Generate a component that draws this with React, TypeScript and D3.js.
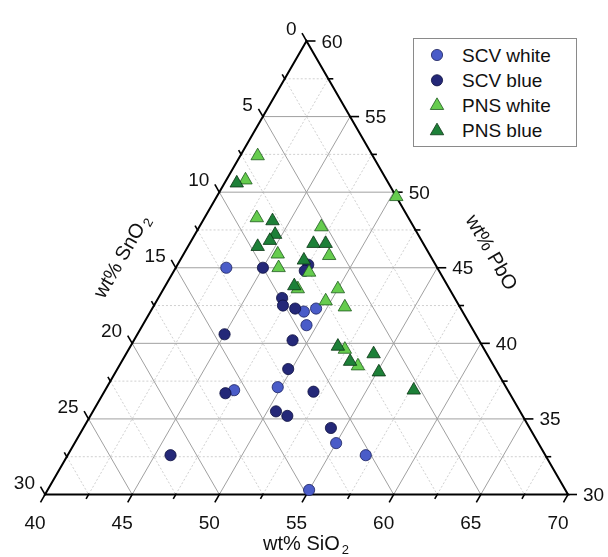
import React, { useRef, useEffect } from "react";
import * as d3 from "d3";

// compositions in wt% (SiO2 + PbO + SnO2 = 100)
const scvWhiteSiO2 = [42.9, 48.8, 49.4, 49.4, 49.8, 47.4, 55.0, 57.1, 55.0];
const scvWhitePbO = [45.0, 42.1, 42.3, 41.2, 37.1, 36.9, 33.4, 32.6, 30.3];
const scvWhiteSnO2 = [12.1, 9.1, 8.3, 9.4, 13.1, 15.7, 11.6, 10.3, 14.7];

const scvBlueSiO2 = [45.0, 47.5, 47.5, 47.1, 47.4, 48.2, 45.0, 49.1, 49.8, 47.0, 52.0, 50.5, 51.3, 54.2, 45.9];
const scvBluePbO = [45.0, 45.2, 44.8, 43.0, 42.5, 42.3, 40.6, 40.2, 38.3, 36.7, 36.8, 35.5, 35.2, 34.4, 32.6];
const scvBlueSnO2 = [10.0, 7.3, 7.7, 9.9, 10.1, 9.5, 14.4, 10.7, 11.9, 16.3, 11.2, 14.0, 13.5, 11.4, 21.5];

const pnsWhiteSiO2 = [41.0, 41.1, 43.0, 47.0, 45.4, 48.4, 45.9, 47.8, 47.7, 50.0, 49.7, 51.0, 52.4, 53.7, 50.3];
const pnsWhitePbO = [52.4, 50.8, 48.3, 47.7, 45.9, 45.8, 45.0, 44.7, 43.6, 43.6, 42.8, 42.4, 39.6, 38.5, 49.7];
const pnsWhiteSnO2 = [6.6, 8.1, 8.7, 5.3, 8.7, 5.8, 9.1, 7.5, 8.7, 6.4, 7.5, 6.6, 8.0, 7.8, 0.0];

const pnsBlueSiO2 = [40.7, 44.0, 44.6, 44.5, 44.0, 47.1, 47.8, 47.1, 47.4, 51.9, 54.2, 53.1, 55.1, 57.7];
const pnsBluePbO = [50.6, 48.1, 47.2, 46.8, 46.4, 46.6, 46.6, 45.5, 43.8, 39.8, 39.3, 38.8, 38.1, 36.9];
const pnsBlueSnO2 = [8.7, 7.9, 8.2, 8.7, 9.6, 6.3, 5.6, 7.4, 8.8, 8.3, 6.5, 8.1, 6.8, 5.4];

const seriesNames = ["SCV white", "SCV blue", "PNS white", "PNS blue"];

// axis ranges and ticks
const sio2Range = [40, 70];
const pboRange = [30, 60];
const sno2Range = [0, 30];
const sio2Ticks = [40, 45, 50, 55, 60, 65, 70];
const pboTicks = [30, 35, 40, 45, 50, 55, 60];
const sno2Ticks = [0, 5, 10, 15, 20, 25, 30];

const App = () => {
  const svgRef = useRef(null);

  useEffect(() => {
    const width = 608;
    const height = 557;
    const font = "'Liberation Sans', Arial, sans-serif";

    const svg = d3.select(svgRef.current).attr("width", width).attr("height", height);
    svg.selectAll("*").remove();

    // triangle corners
    const top = [306.5, 41];
    const bl = [45, 494.5];
    const br = [568, 494.5];

    const fSi = d3.scaleLinear().domain(sio2Range).range([0, 1]);
    const fPb = d3.scaleLinear().domain(pboRange).range([0, 1]);
    const fSn = d3.scaleLinear().domain(sno2Range).range([0, 1]);

    const project = (si, pb, sn) => {
      const a = fSi(si);
      const b = fPb(pb);
      const c = fSn(sn);
      const s = a + b + c;
      return [
        (a * br[0] + b * top[0] + c * bl[0]) / s,
        (a * br[1] + b * top[1] + c * bl[1]) / s,
      ];
    };
    // corner values of each component: SiO2 40..70, PbO 30..60, SnO2 0..30
    const siLine = (v) => [project(v, 30, 70 - v), project(v, 100 - v, 0)];
    const pbLine = (v) => [project(40, v, 60 - v), project(100 - v, v, 0)];
    const snLine = (v) => [project(40, 60 - v, v), project(70 - v, 30, v)];

    const grid = svg.append("g");
    const minorVals = d3.range(2.5, 30, 5);
    const majorVals = d3.range(5, 30, 5);

    const drawLine = (g, pts, color, w, dash) => {
      g.append("line")
        .attr("x1", pts[0][0]).attr("y1", pts[0][1])
        .attr("x2", pts[1][0]).attr("y2", pts[1][1])
        .attr("stroke", color)
        .attr("stroke-width", w)
        .attr("stroke-dasharray", dash);
    };

    minorVals.forEach((d) => {
      drawLine(grid, siLine(40 + d), "#c4c4c4", 0.8, "2,2");
      drawLine(grid, pbLine(30 + d), "#c4c4c4", 0.8, "2,2");
      drawLine(grid, snLine(d), "#c4c4c4", 0.8, "2,2");
    });
    majorVals.forEach((d) => {
      drawLine(grid, siLine(40 + d), "#a0a0a0", 1, null);
      drawLine(grid, pbLine(30 + d), "#a0a0a0", 1, null);
      drawLine(grid, snLine(d), "#a0a0a0", 1, null);
    });

    // frame
    svg.append("path")
      .attr("d", d3.line()([top, br, bl]) + "Z")
      .attr("fill", "none")
      .attr("stroke", "#000")
      .attr("stroke-width", 2)
      .attr("stroke-linejoin", "miter");

    // ticks
    const ticks = svg.append("g").attr("stroke", "#000").attr("stroke-width", 1.6);
    const allMinor = d3.range(2.5, 30, 5);
    const tickAt = (p, dir, len) => {
      ticks.append("line")
        .attr("x1", p[0] - dir[0] * 1).attr("y1", p[1] - dir[1] * 1)
        .attr("x2", p[0] + dir[0] * len).attr("y2", p[1] + dir[1] * len);
    };
    const dSi = [-0.5, 0.866];
    const dPb = [1, 0];
    const dSn = [-0.5, -0.866];

    sio2Ticks.forEach((v) => tickAt(project(v, 30, 70 - v), dSi, 9));
    pboTicks.forEach((v) => tickAt(project(100 - v, v, 0), dPb, 9));
    sno2Ticks.forEach((v) => tickAt(project(40, 60 - v, v), dSn, 9));
    allMinor.forEach((d) => {
      tickAt(project(40 + d, 30, 30 - d), dSi, 5);
      tickAt(project(70 - d, 30 + d, 0), dPb, 5);
      tickAt(project(40, 60 - d, d), dSn, 5);
    });

    // tick labels
    const labels = svg.append("g").attr("font-family", font).attr("font-size", 19).attr("fill", "#111");
    sio2Ticks.forEach((v) => {
      const p = project(v, 30, 70 - v);
      labels.append("text").attr("x", p[0] - 10).attr("y", 529).attr("text-anchor", "middle").text(v);
    });
    pboTicks.forEach((v) => {
      const p = project(100 - v, v, 0);
      labels.append("text").attr("x", p[0] + 15).attr("y", p[1] + 6.5).attr("text-anchor", "start").text(v);
    });
    sno2Ticks.forEach((v) => {
      const p = project(40, 60 - v, v);
      labels.append("text").attr("x", p[0] - 10).attr("y", p[1] - 6).attr("text-anchor", "end").text(v);
    });

    // axis titles
    const addTitle = (x, y, rot, main, sub) => {
      const t = svg.append("text")
        .attr("transform", `translate(${x},${y}) rotate(${rot})`)
        .attr("text-anchor", "middle")
        .attr("dominant-baseline", "central")
        .attr("font-family", font)
        .attr("font-size", 20)
        .attr("fill", "#111");
      t.append("tspan").text(main);
      if (sub) t.append("tspan").attr("font-size", 13).attr("dy", 6).attr("dx", 2).text(sub);
    };
    addTitle(306, 543, 0, "wt% SiO", "2");
    addTitle(121, 256, -60, "wt% SnO", "2");
    addTitle(492, 252, 60, "wt% PbO", null);

    // markers
    const styles = [
      { fill: "#4a5cc8", stroke: "#1c2260", shape: "circle" },
      { fill: "#242878", stroke: "#0e1040", shape: "circle" },
      { fill: "#66cc4e", stroke: "#1e5a1e", shape: "triangle" },
      { fill: "#1d8038", stroke: "#0b3514", shape: "triangle" },
    ];
    const seriesData = [
      [scvWhiteSiO2, scvWhitePbO, scvWhiteSnO2],
      [scvBlueSiO2, scvBluePbO, scvBlueSnO2],
      [pnsWhiteSiO2, pnsWhitePbO, pnsWhiteSnO2],
      [pnsBlueSiO2, pnsBluePbO, pnsBlueSnO2],
    ];
    const tri = d3.symbol().type(d3.symbolTriangle).size(78);

    const drawMarker = (g, p, st) => {
      if (st.shape === "circle") {
        g.append("circle").attr("cx", p[0]).attr("cy", p[1]).attr("r", 5.6)
          .attr("fill", st.fill).attr("stroke", st.stroke).attr("stroke-width", 0.8);
      } else {
        g.append("path").attr("d", tri()).attr("transform", `translate(${p[0]},${p[1]})`)
          .attr("fill", st.fill).attr("stroke", st.stroke).attr("stroke-width", 0.8);
      }
    };

    const pts = svg.append("g");
    seriesData.forEach(([si, pb, sn], i) => {
      si.forEach((v, j) => drawMarker(pts, project(v, pb[j], sn[j]), styles[i]));
    });

    // legend
    const lg = svg.append("g");
    lg.append("rect").attr("x", 413.5).attr("y", 38.5).attr("width", 163).attr("height", 108)
      .attr("fill", "#fff").attr("stroke", "#8a8a8a").attr("stroke-width", 1);
    seriesNames.forEach((name, i) => {
      const y = 55 + i * 25.3;
      drawMarker(lg, [437, y], styles[i]);
      lg.append("text").attr("x", 462).attr("y", y).attr("dominant-baseline", "central")
        .attr("font-family", font).attr("font-size", 19).attr("fill", "#111").text(name);
    });
  }, []);

  return (
    <div style={{ position: "fixed", left: 0, top: 0 }}>
      <svg ref={svgRef} />
    </div>
  );
};

export default App;
